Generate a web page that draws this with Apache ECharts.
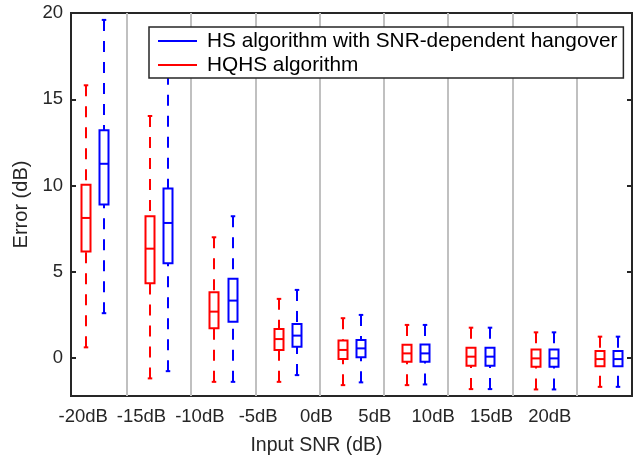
<!DOCTYPE html>
<html>
<head>
<meta charset="utf-8">
<script src="https://cdn.jsdelivr.net/npm/echarts@6/dist/echarts.min.js"></script>
<style>
  html, body { margin: 0; padding: 0; background: #fff; }
  #chart { width: 636px; height: 455px; }
</style>
</head>
<body>
<div id="chart"></div>
<script>
// Input SNR levels on the x axis
const categories = ['-20dB', '-15dB', '-10dB', '-5dB', '0dB', '5dB', '10dB', '15dB', '20dB'];

// Five-number summaries per SNR level: [lower whisker, Q1, median, Q3, upper whisker] in dB
const hqhsStats = [
  [0.62, 6.18, 8.12, 10.04, 15.81],
  [-1.18, 4.34, 6.34, 8.22, 14.03],
  [-1.38, 1.72, 2.69, 3.82, 7.00],
  [-1.38, 0.47, 1.10, 1.69, 3.43],
  [-1.57, -0.06, 0.47, 1.01, 2.31],
  [-1.57, -0.21, 0.27, 0.77, 1.92],
  [-1.80, -0.45, 0.08, 0.60, 1.76],
  [-1.82, -0.50, -0.02, 0.50, 1.49],
  [-1.67, -0.47, -0.06, 0.41, 1.24]
];
const hsStats = [
  [2.60, 8.90, 11.26, 13.20, 19.60],
  [-0.76, 5.50, 7.83, 9.83, 17.70],
  [-1.38, 2.11, 3.33, 4.59, 8.22],
  [-0.99, 0.66, 1.30, 1.98, 3.95],
  [-1.41, 0.04, 0.56, 1.05, 2.50],
  [-1.53, -0.21, 0.27, 0.79, 1.92],
  [-1.80, -0.45, 0.08, 0.60, 1.76],
  [-1.82, -0.50, -0.02, 0.50, 1.49],
  [-1.67, -0.47, -0.06, 0.41, 1.24]
];

const yTicks = [0, 5, 10, 15, 20];
const seriesNames = ['HS algorithm with SNR-dependent hangover', 'HQHS algorithm'];

const FONT = '"Liberation Sans", Arial, Helvetica, sans-serif';
const TEXT = '#262626';
const AXIS = '#262626';
const RED = '#ff0000';
const BLUE = '#0000ff';
const PAIR_OFFSET = 0.143;   // half distance between the two boxes of a group (x units)
const Y_MIN = -2.2, Y_MAX = 20;

// group separators sit halfway between group centres
const separators = categories.slice(1).map((_, i) => [i + 1.5, 0]);

function boxRenderer(color) {
  return function (params, api) {
    const x = api.value(0);
    const pLo = api.coord([x, api.value(1)]);
    const pQ1 = api.coord([x, api.value(2)]);
    const pMed = api.coord([x, api.value(3)]);
    const pQ3 = api.coord([x, api.value(4)]);
    const pHi = api.coord([x, api.value(5)]);
    const cx = Math.round(pMed[0]);
    const hw = 4.5, cw = 2.25;
    const solid = { stroke: color, lineWidth: 2, fill: null };
    const dashed = { stroke: color, lineWidth: 2, lineDash: [11, 10], fill: null };
    return {
      type: 'group',
      children: [
        { type: 'line', shape: { x1: cx, y1: pHi[1], x2: cx, y2: pQ3[1] }, style: dashed },
        { type: 'line', shape: { x1: cx, y1: pLo[1], x2: cx, y2: pQ1[1] }, style: dashed },
        { type: 'line', shape: { x1: cx - cw, y1: pHi[1], x2: cx + cw, y2: pHi[1] }, style: solid },
        { type: 'line', shape: { x1: cx - cw, y1: pLo[1], x2: cx + cw, y2: pLo[1] }, style: solid },
        { type: 'rect', shape: { x: cx - hw, y: pQ3[1], width: 2 * hw, height: pQ1[1] - pQ3[1] }, style: solid },
        { type: 'line', shape: { x1: cx - hw, y1: pMed[1], x2: cx + hw, y2: pMed[1] }, style: solid }
      ]
    };
  };
}

function separatorRenderer(params, api) {
  const x = Math.round(api.coord([api.value(0), 0])[0]);
  const cs = params.coordSys;
  return {
    type: 'line',
    shape: { x1: x, y1: cs.y, x2: x, y2: cs.y + cs.height },
    style: { stroke: '#c0c0c0', lineWidth: 2 }
  };
}

const chart = echarts.init(document.getElementById('chart'), null, { renderer: 'canvas' });

chart.setOption({
  animation: false,
  backgroundColor: '#fff',
  textStyle: { fontFamily: FONT },
  grid: [
    { left: 71, right: 4, top: 13, bottom: 59, containLabel: false, outerBoundsMode: 'none',
      show: true, borderColor: AXIS, borderWidth: 2, backgroundColor: 'transparent' },
    { left: 54, width: 525, top: 13, bottom: 59, containLabel: false, outerBoundsMode: 'none', show: false }
  ],
  legend: {
    data: seriesNames,
    orient: 'vertical',
    left: 149,
    top: 27,
    padding: [2, 6, 1, 9],
    itemWidth: 39,
    itemHeight: 2,
    itemGap: 0,
    icon: 'rect',
    selectedMode: false,
    backgroundColor: '#fff',
    borderColor: AXIS,
    borderWidth: 1.5,
    textStyle: { fontFamily: FONT, fontSize: 20.8, lineHeight: 24, color: '#000', padding: [0, 0, 0, 5] }
  },
  xAxis: [
    {
      gridIndex: 0, type: 'value', min: 0.629, max: 9.356,
      axisLine: { show: false }, axisTick: { show: false }, axisLabel: { show: false }, splitLine: { show: false }
    },
    {
      gridIndex: 1, type: 'category', data: categories, boundaryGap: true,
      axisLine: { show: false }, axisTick: { show: false }, splitLine: { show: false },
      axisLabel: { interval: 0, fontFamily: FONT, fontSize: 18.5, color: TEXT, margin: 11 },
      name: 'Input SNR (dB)', nameLocation: 'middle', nameGap: 40,
      nameTextStyle: { fontFamily: FONT, fontSize: 19.5, color: TEXT }
    }
  ],
  yAxis: [
    {
      gridIndex: 0, type: 'value', min: Y_MIN, max: Y_MAX,
      axisLine: { show: false },
      axisTick: { show: true, inside: true, length: 5, customValues: yTicks, lineStyle: { color: AXIS, width: 2 } },
      axisLabel: { customValues: yTicks, margin: 8, fontFamily: FONT, fontSize: 18.5, color: TEXT },
      splitLine: { show: false },
      name: 'Error (dB)', nameLocation: 'middle', nameGap: 35, nameRotate: 90,
      nameTextStyle: { fontFamily: FONT, fontSize: 20, color: TEXT }
    },
    {
      gridIndex: 0, type: 'value', min: Y_MIN, max: Y_MAX, position: 'right',
      axisLine: { show: false },
      axisTick: { show: true, inside: true, length: 5, customValues: yTicks, lineStyle: { color: AXIS, width: 2 } },
      axisLabel: { show: false }, splitLine: { show: false }
    },
    { gridIndex: 1, type: 'value', show: false }
  ],
  series: [
    {
      type: 'custom', name: 'separators', xAxisIndex: 0, yAxisIndex: 0, z: 1, silent: true,
      renderItem: separatorRenderer, data: separators, encode: { x: 0, y: 1 }
    },
    {
      type: 'custom', name: seriesNames[1], xAxisIndex: 0, yAxisIndex: 0, z: 3, silent: true,
      itemStyle: { color: RED },
      renderItem: boxRenderer(RED),
      data: hqhsStats.map((s, i) => [i + 1 - PAIR_OFFSET].concat(s)),
      encode: { x: 0, y: [1, 2, 3, 4, 5] }
    },
    {
      type: 'custom', name: seriesNames[0], xAxisIndex: 0, yAxisIndex: 0, z: 3, silent: true,
      itemStyle: { color: BLUE },
      renderItem: boxRenderer(BLUE),
      data: hsStats.map((s, i) => [i + 1 + PAIR_OFFSET].concat(s)),
      encode: { x: 0, y: [1, 2, 3, 4, 5] }
    }
  ]
});
</script>
</body>
</html>
